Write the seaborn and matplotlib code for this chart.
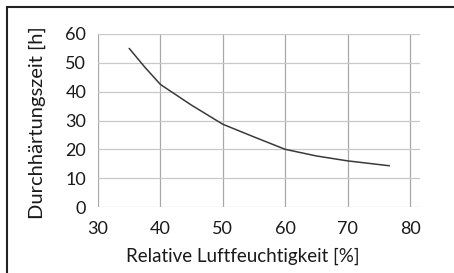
import matplotlib
matplotlib.use("Agg")
import matplotlib.pyplot as plt
import seaborn as sns
import pandas as pd
from matplotlib.patches import Rectangle

humidity = [35, 37.5, 40, 45, 50, 55, 60, 65, 70, 76.7]
hours = [55, 48.5, 42.5, 35.3, 28.7, 24.3, 20, 17.7, 16, 14.3]
x_ticks = [30, 40, 50, 60, 70, 80]
y_ticks = [0, 10, 20, 30, 40, 50, 60]

sns.set_style("white")
plt.rcParams['font.family'] = ['Lato', 'DejaVu Sans']

df = pd.DataFrame({"x": humidity, "y": hours})

fig = plt.figure(figsize=(4.54, 2.73), dpi=100)
ax = fig.add_axes([98/454, 1-207/273, (420-98)/454, (207-34)/273])
sns.lineplot(data=df, x="x", y="y", ax=ax, color="#3a3a3a", linewidth=1.1)

ax.set_xlim(30, 81.6)
ax.set_ylim(0, 60)
ax.set_xticks(x_ticks)
ax.set_yticks(y_ticks)
ax.grid(True, axis="x", color="#a8a8a8", linewidth=0.9)
ax.grid(True, axis="y", color="#c8c8c8", linewidth=0.9)
ax.set_axisbelow(True)
for s in ax.spines.values():
    s.set_visible(False)
ax.tick_params(axis="both", which="major", length=6.5, width=0.9, color="#a8a8a8",
               labelsize=13, labelcolor="#1a1a1a", direction="out")
ax.tick_params(axis="y", pad=2)
ax.tick_params(axis="x", pad=3.5)
ax.set_xlabel("Relative Luftfeuchtigkeit [%]", fontsize=13.5, color="#1a1a1a")
ax.set_ylabel("Durchhärtungszeit [h]", fontsize=14.5, color="#1a1a1a")
ax.xaxis.set_label_coords((243 - 98) / 322, (207 - 248) / 173)
ax.yaxis.set_label_coords((46 - 98) / 322, (207 - 122.5) / 173)

fig.patches.append(Rectangle((7/454, -0.2), 1.2, 1.2 - 7/273, transform=fig.transFigure,
                             fill=False, edgecolor="#222222", linewidth=1.5, figure=fig))

fig.savefig("out.png", dpi=100)
